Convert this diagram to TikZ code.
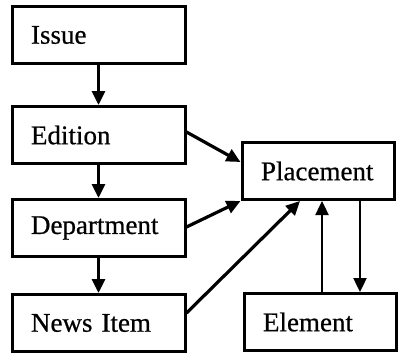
\documentclass[tikz,border=0pt]{standalone}
\usepackage{fontspec}
\setmainfont{Liberation Serif}
\newfontfamily\heavyserif{Liberation Serif}[FakeBold=0.6]
\usetikzlibrary{arrows.meta,calc}
\begin{document}
\begin{tikzpicture}[x=1pt,y=-1pt,
  box/.style={draw,line width=3pt,rectangle,inner xsep=19pt,inner ysep=0pt,
    align=left,font=\heavyserif\fontsize{27}{30}\selectfont},
  leftbox/.style={box,text width=135pt,minimum height=57pt},
  rightbox/.style={box,text width=114pt,minimum height=57pt},
  conn/.style={line width=3.2pt,-{Triangle[length=14pt,width=13pt]}},
  thin/.style={line width=2.4pt,-{Triangle[length=14pt,width=13pt]}}]
\useasboundingbox (0,0) rectangle (400,354);
\node[leftbox] (issue) at (98.5,35) {Issue};
\node[leftbox] (edition) at (98.5,135) {Edition};
\node[leftbox] (dept) at (98.5,228) {Department};
\node[leftbox] (news) at (98.5,323) {News Item};
\node[rightbox] (placement) at (318,171) {Placement};
\node[rightbox] (element) at (320,322) {Element};
\draw[conn] (issue) -- (edition);
\draw[conn] (edition) -- (dept);
\draw[conn] (dept) -- (news);
\draw[conn] ($(edition.east)+(0,-3)$) -- ($(placement.west)+(0,-9)$);
\draw[conn] ($(dept.east)+(0,-1)$) -- (placement.south west);
\draw[conn] ($(news.east)+(0,-10)$) -- ($(placement.south)+(-18,0)$);
\draw[thin] ([xshift=2pt]element.north) -- ([xshift=4pt]placement.south);
\draw[thin] ([xshift=42pt]placement.south) -- ([xshift=40pt]element.north);
\end{tikzpicture}
\end{document}
